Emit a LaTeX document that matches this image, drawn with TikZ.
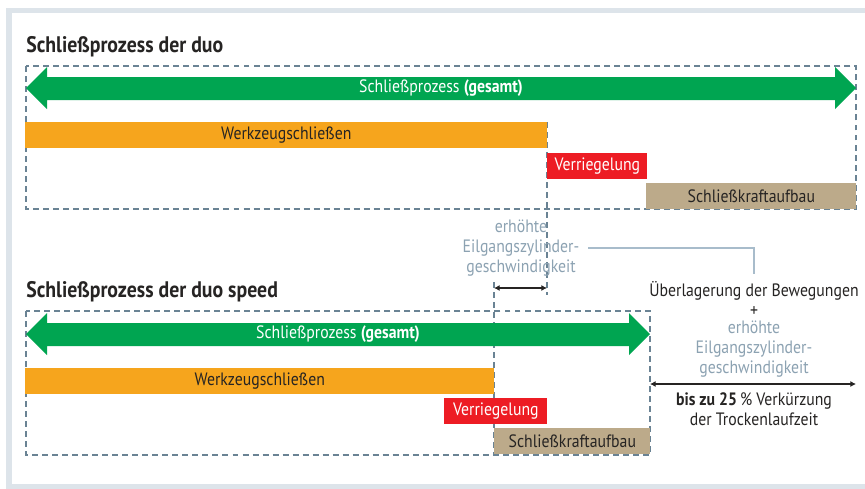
\documentclass[tikz,border=0pt]{standalone}
\usepackage{fontspec}
\setmainfont{PT Sans}[FakeStretch=0.88]
\usetikzlibrary{arrows.meta,positioning}
\definecolor{procgreen}{RGB}{0,165,81}
\definecolor{toolorange}{RGB}{246,165,29}
\definecolor{lockred}{RGB}{237,28,36}
\definecolor{forcetan}{RGB}{188,170,138}
\definecolor{dashgray}{RGB}{106,131,148}
\definecolor{softgray}{RGB}{140,162,178}
\definecolor{linkgray}{RGB}{168,188,203}
\definecolor{framegray}{RGB}{221,228,234}
\definecolor{darktext}{RGB}{38,36,35}

\begin{document}
\begin{tikzpicture}[
  x=0.02cm, y=-0.02cm,
  txt/.style={font=\fontsize{10.2}{11.4}\selectfont, text=darktext, align=center, inner sep=0pt},
  title/.style={font=\fontsize{12.8}{14}\selectfont\bfseries, text=darktext, anchor=base west, inner sep=0pt},
  bar/.style={txt, anchor=north west, minimum height=0.52cm},
  dashbox/.style={dashgray, line width=0.7pt, dash pattern=on 3.4pt off 2.3pt},
  gesamt/.style={fill=procgreen},
  dimarr/.style={{Latex[length=3.2pt,width=3.4pt]}-{Latex[length=3.2pt,width=3.4pt]}, line width=0.6pt, darktext},
  link/.style={linkgray, line width=0.6pt},
]
\clip (0,0) rectangle (865,488);
\fill[white] (0,0) rectangle (865,488);
\draw[framegray, line width=0.11cm] (9,10.5) rectangle (900,486.5);

% duo
\node[title] (titleA) at (26,52) {Schließprozess der duo};
\draw[dashbox] (26,66) rectangle (856,209);
\draw[dashbox] (547,122) -- (547,295);
\fill[gesamt] (26,88) -- (47,67) -- (47,77) -- (835,77) -- (835,67) -- (856,88)
  -- (835,109) -- (835,100) -- (47,100) -- (47,109) -- cycle;
\node[txt, text=white] (gesA) at (441,88.5) {Schließprozess \textbf{(gesamt)}};
\node[bar, fill=toolorange, minimum width=10.44cm] (toolA) at (25,122) {Werkzeugschließen};
\node[bar, fill=lockred, text=white, minimum width=2.0cm] (lockA) at (547,153) {Verriegelung};
\node[bar, fill=forcetan, minimum width=4.2cm] (forceA) at (646,183) {Schließkraftaufbau};

% duo speed
\node[title] (titleB) at (26,297) {Schließprozess der duo speed};
\draw[dashbox] (26,311) rectangle (650,455);
\draw[dashbox] (494,282) -- (494,455);
\fill[gesamt] (26,334) -- (47,313) -- (47,323) -- (629,323) -- (629,313) -- (650,334)
  -- (629,355) -- (629,346) -- (47,346) -- (47,355) -- cycle;
\node[txt, text=white] (gesB) at (338,334.5) {Schließprozess \textbf{(gesamt)}};
\node[bar, fill=toolorange, minimum width=9.38cm] (toolB) at (25,368) {Werkzeugschließen};
\node[bar, fill=lockred, text=white, minimum width=2.06cm] (lockB) at (444,398) {Verriegelung};
\node[bar, fill=forcetan, minimum width=3.12cm] (forceB) at (494,428) {Schließkraftaufbau};

% Annotations
\node[txt, text=softgray] (eilA) at (521,248) {erhöhte\\Eilgangszylinder-\\geschwindigkeit};
\node[txt] (ueber) at (754,299) {Überlagerung der Bewegungen\\+};
\node[txt, text=softgray] (eilB) at (754,349.5) {erhöhte\\Eilgangszylinder-\\geschwindigkeit};
\node[txt] (kuerz) at (754,409.5) {\textbf{bis zu 25}\,\% Verkürzung\\der Trockenlaufzeit};
\draw[link] ([xshift=5pt]eilA.east) -| ([yshift=4pt]ueber.north);

\coordinate (gainL) at (494,288);
\coordinate (gainR) at (547,288);
\coordinate (saveL) at (650,384);
\coordinate (saveR) at (856,384);
\draw[dimarr] (gainL) -- (gainR);
\draw[dimarr] (saveL) -- (saveR);
\end{tikzpicture}
\end{document}
